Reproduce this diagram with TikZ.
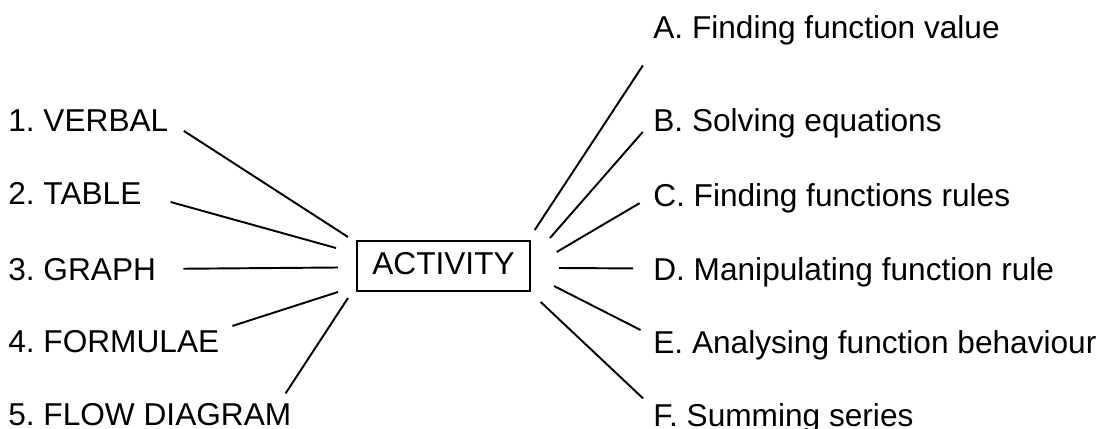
\documentclass[tikz,border=0pt]{standalone}
\usepackage{fontspec}
\setmainfont{Liberation Sans}
\usetikzlibrary{positioning}
\frenchspacing

\begin{document}
\begin{tikzpicture}[x=0.02cm, y=-0.02cm,
        lbl/.style={anchor=base west, inner sep=0pt, text depth=0pt, font=\fontsize{18}{20}\selectfont},
        link/.style={line width=1.1pt}]
        \useasboundingbox (0,0) rectangle (1107,429);

        \node[draw, line width=1.1pt, minimum width=3.46cm, minimum height=1cm, text depth=0.1cm, font=\fontsize{18}{20}\selectfont] (act) at (443.5,266) {ACTIVITY};

        \node[lbl] (verbal) at (8,132) {1. VERBAL};
        \node[lbl] (table) at (8,205) {2. TABLE};
        \node[lbl] (graph) at (8,280) {3. GRAPH};
        \node[lbl] (formulae) at (8,352.5) {4. FORMULAE};
        \node[lbl] (flow) at (8,425) {5. FLOW DIAGRAM};

        \node[lbl] (value) at (653,38.3) {A. Finding function value};
        \node[lbl] (solve) at (653,131.7) {B. Solving equations};
        \node[lbl] (rules) at (653,206.7) {C. Finding functions rules};
        \node[lbl] (manip) at (653,280) {D. Manipulating function rule};
        \node[lbl] (behav) at (653,353.3) {E. Analysing function behaviour};
        \node[lbl] (series) at (653,426) {F. Summing series};

        % ends next to the box
        \coordinate (l1) at (348,237);
        \coordinate (l2) at (336,248);
        \coordinate (l3) at (338,267.5);
        \coordinate (l4) at (338,292);
        \coordinate (l5) at (348,298);
        \coordinate (r1) at (534.7,230);
        \coordinate (r2) at (550,238);
        \coordinate (r3) at (556.7,252);
        \coordinate (r4) at (559,268);
        \coordinate (r5) at (554,286);
        \coordinate (r6) at (540.7,302);

        \draw[link, shorten <=0.36cm] (verbal.east) -- (l1);
        \draw[link, shorten <=0.6cm] (table.east) -- (l2);
        \draw[link, shorten <=0.54cm] (graph.east) -- (l3);
        \draw[link, shorten <=0.27cm] (formulae.north east) -- (l4);
        \draw[link, shorten <=0.22cm] ([xshift=-0.24cm]flow.north east) -- (l5);

        \draw[link, shorten <=0.64cm] ([xshift=0.15cm]value.south west) -- (r1);
        \draw[link, shorten <=0.31cm] (solve.west) -- (r2);
        \draw[link, shorten <=0.31cm] (rules.west) -- (r3);
        \draw[link, shorten <=0.4cm] (manip.west) -- (r4);
        \draw[link, shorten <=0.28cm] ([yshift=0.11cm]behav.west) -- (r5);
        \draw[link, shorten <=0.27cm] ([yshift=-0.1cm]series.north west) -- (r6);
    \end{tikzpicture}
\end{document}
